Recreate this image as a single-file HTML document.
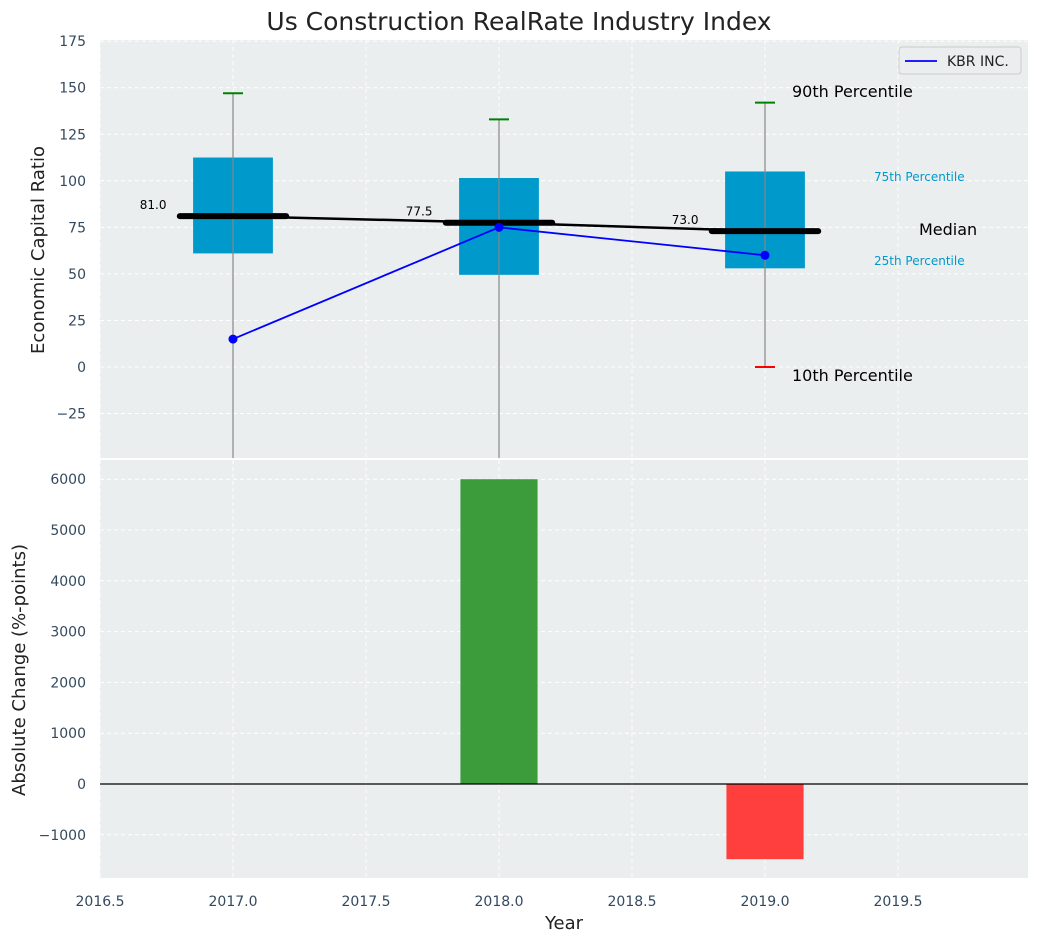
<!DOCTYPE html>
<html><head><meta charset="utf-8"><style>
body{margin:0;background:#fff;font-family:"Liberation Sans","DejaVu Sans",sans-serif}
svg text{font-family:"DejaVu Sans","Liberation Sans",sans-serif}
</style></head><body>
<svg id="c" width="1039" height="942" xmlns="http://www.w3.org/2000/svg"></svg>
<script>
const years=[2017,2018,2019];
const q1=[61,49.5,53];
const q3=[112.5,101.5,105];
const medians=[81,77.5,73];
const p90=[147,133,142];
const p10=[-60,-60,0];
const kbr=[15,75,60];
const changes=[0,6000,-1480];
const xTicks=[2016.5,2017,2017.5,2018,2018.5,2019,2019.5];
const yTopTicks=[-25,0,25,50,75,100,125,150,175];
const yBotTicks=[-1000,0,1000,2000,3000,4000,5000,6000];

const NS="http://www.w3.org/2000/svg";
const svg=document.getElementById('c');
const L=100,R=1028,T1=40,B1=458,T2=460,B2=878;
const X=v=>L+(v-2016.5)*266;
const Y1=v=>367-v*1.862;
const Y2=v=>784-v*0.0508;
function el(t,a,p){const e=document.createElementNS(NS,t);for(const k in a)e.setAttribute(k,a[k]);(p||svg).appendChild(e);return e;}
function tx(x,y,s,a,p){const e=el('text',Object.assign({x:x,y:y},a),p);e.textContent=s;return e;}

// title
const title=tx(519,30,'Us Construction RealRate Industry Index',{'text-anchor':'middle','font-size':25,fill:'#222'});



// panels
const p1=el('rect',{x:L,y:T1,width:R-L,height:B1-T1,fill:'#eaeeee'});


const p2=el('rect',{x:L,y:T2,width:R-L,height:B2-T2,fill:'#eaeeee'});



// grids
xTicks.forEach(v=>{
  el('line',{x1:X(v),x2:X(v),y1:T1,y2:B1,stroke:'#fff','stroke-dasharray':'4,3'});
  el('line',{x1:X(v),x2:X(v),y1:T2,y2:B2,stroke:'#fff','stroke-dasharray':'4,3'});
  const t=tx(X(v),906,v.toFixed(1),{'text-anchor':'middle','font-size':14,fill:'#34495e'});
  
  
});
yTopTicks.forEach(v=>{
  el('line',{x1:L,x2:R,y1:Y1(v),y2:Y1(v),stroke:'#fff','stroke-dasharray':'4,3'});
  const t=tx(86,Y1(v)+5,v<0?'\u2212'+(-v):String(v),{'text-anchor':'end','font-size':14,fill:'#34495e'});
  
  
});
yBotTicks.forEach(v=>{
  el('line',{x1:L,x2:R,y1:Y2(v),y2:Y2(v),stroke:'#fff','stroke-dasharray':'4,3'});
  const t=tx(86,Y2(v)+5,v<0?'\u2212'+(-v):String(v),{'text-anchor':'end','font-size':14,fill:'#34495e'});
  
  
});

// clip for top panel
const defs=el('defs',{});
const cp=el('clipPath',{id:'cp1'},defs);
el('rect',{x:L,y:T1,width:R-L,height:B1-T1},cp);
const g1=el('g',{'clip-path':'url(#cp1)'});

// boxes
years.forEach((y,i)=>{
  const b=el('rect',{x:X(y-0.15),y:Y1(q3[i]),width:X(y+0.15)-X(y-0.15),height:Y1(q1[i])-Y1(q3[i]),fill:'#0099cc'},g1);
  
  
  const w=el('line',{x1:X(y),x2:X(y),y1:Y1(p90[i]),y2:Y1(p10[i]),stroke:'#888','stroke-width':1.2},g1);
  
  
  const c1=el('line',{x1:X(y)-10,x2:X(y)+10,y1:Y1(p90[i]),y2:Y1(p90[i]),stroke:'green','stroke-width':2},g1);
  
  
  const c2=el('line',{x1:X(y)-10,x2:X(y)+10,y1:Y1(p10[i]),y2:Y1(p10[i]),stroke:'red','stroke-width':2},g1);
  
  
});
// median connecting line
const ml=el('polyline',{points:years.map((y,i)=>X(y)+','+Y1(medians[i])).join(' '),fill:'none',stroke:'#000','stroke-width':2.5},g1);


years.forEach((y,i)=>{
  const m=el('line',{x1:X(y-0.2),x2:X(y+0.2),y1:Y1(medians[i]),y2:Y1(medians[i]),stroke:'#000','stroke-width':6,'stroke-linecap':'round'},g1);
  
  
  const t=tx(X(y-0.25),Y1(medians[i])-7,medians[i].toFixed(1),{'text-anchor':'end','font-size':12,fill:'#000'});
  
  
});
// KBR line
const kl=el('polyline',{points:years.map((y,i)=>X(y)+','+Y1(kbr[i])).join(' '),fill:'none',stroke:'blue','stroke-width':1.8},g1);


years.forEach((y,i)=>{
  const d=el('circle',{cx:X(y),cy:Y1(kbr[i]),r:4.5,fill:'blue'},g1);
  
  
});
// annotations
const ann=[[792,97,'90th Percentile',16,'#000'],[792,381,'10th Percentile',16,'#000'],[874,181,'75th Percentile',12,'#0099cc'],[874,265,'25th Percentile',12,'#0099cc'],[919,235,'Median',16,'#000']];
ann.forEach(a=>{
  const t=tx(a[0],a[1],a[2],{'font-size':a[3],fill:a[4]});
  
  
});
// legend
const lg=el('g',{});


el('rect',{x:899,y:47,width:122,height:27,rx:3,fill:'#eaeeee',stroke:'#ccc'},lg);
el('line',{x1:905,x2:937,y1:61,y2:61,stroke:'blue','stroke-width':1.8},lg);
tx(947,66,'KBR INC.',{'font-size':14,fill:'#222'},lg);

// bottom bars
years.forEach((y,i)=>{
  const v=changes[i];
  if(v===0)return;
  const b=el('rect',{x:X(y-0.145),y:Math.min(Y2(v),Y2(0)),width:X(y+0.145)-X(y-0.145),height:Math.abs(Y2(v)-Y2(0)),fill:v>=0?'#3c9c3c':'#ff3e3e'});
  
  
});
const zl=el('line',{x1:L,x2:R,y1:Y2(0),y2:Y2(0),stroke:'#000','stroke-width':1.2});



// axis titles
const yt1=tx(44,250,'Economic Capital Ratio',{'text-anchor':'middle','font-size':18,fill:'#222',transform:'rotate(-90 44 250)'});


const yt2=tx(25,670,'Absolute Change (%-points)',{'text-anchor':'middle','font-size':18,fill:'#222',transform:'rotate(-90 25 670)'});


const xt=tx(564,929,'Year',{'text-anchor':'middle','font-size':18,fill:'#222'});


</script>
</body></html>
